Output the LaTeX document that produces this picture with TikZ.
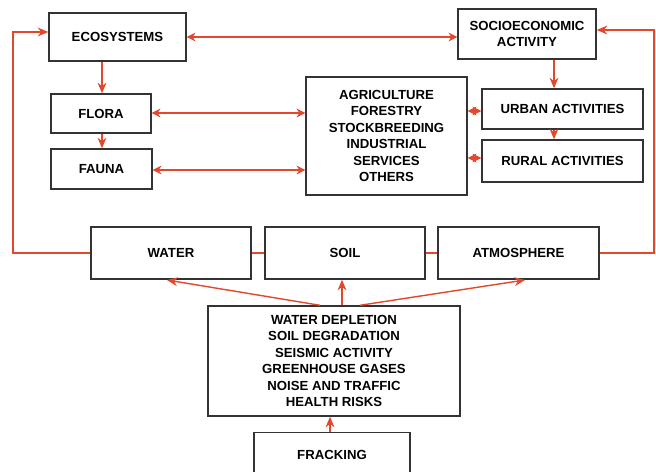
\documentclass[tikz,border=0pt]{standalone}
\usepackage{fontspec}
\setmainfont{Liberation Sans}
\usetikzlibrary{arrows.meta}
\definecolor{linkred}{RGB}{226,72,44}
\tikzset{
  box/.style={draw=black!80, line width=0.8pt, inner sep=0pt, align=center,
    font=\fontsize{7.5}{9.4}\selectfont\bfseries},
  link/.style={draw=linkred, line width=0.8pt},
  arr/.style={link, -{Stealth[length=6pt,width=5pt]}},
  darr/.style={link, {Stealth[length=5pt,width=5pt]}-{Stealth[length=5pt,width=5pt]}}
}
\begin{document}
\begin{tikzpicture}[x=0.02cm,y=-0.02cm]
  \useasboundingbox (0,0) rectangle (656,472);
  % top row
  \node[box, minimum width=137*0.02cm, minimum height=48*0.02cm] (eco) at (117.5,37) {ECOSYSTEMS};
  \node[box, minimum width=138*0.02cm, minimum height=50*0.02cm] (soc) at (527,34) {SOCIOECONOMIC\\ACTIVITY};
  % left column
  \node[box, minimum width=100*0.02cm, minimum height=39*0.02cm] (flora) at (101,113.5) {FLORA};
  \node[box, minimum width=101*0.02cm, minimum height=40*0.02cm] (fauna) at (101.5,169) {FAUNA};
  % sectors
  \node[box, minimum width=161*0.02cm, minimum height=118*0.02cm] (sec) at (386.5,136)
    {AGRICULTURE\\FORESTRY\\STOCKBREEDING\\INDUSTRIAL\\SERVICES\\OTHERS};
  % right column
  \node[box, minimum width=161*0.02cm, minimum height=40*0.02cm] (urban) at (562.5,109) {URBAN ACTIVITIES};
  \node[box, minimum width=161*0.02cm, minimum height=42*0.02cm] (rural) at (562.5,161) {RURAL ACTIVITIES};
  % environment
  \node[box, minimum width=160*0.02cm, minimum height=52*0.02cm] (water) at (171,253) {WATER};
  \node[box, minimum width=160*0.02cm, minimum height=52*0.02cm] (soil) at (345,253) {SOIL};
  \node[box, minimum width=161*0.02cm, minimum height=52*0.02cm] (atm) at (518.5,253) {ATMOSPHERE};
  % impacts
  \node[box, minimum width=252*0.02cm, minimum height=110*0.02cm] (imp) at (334,361)
    {WATER DEPLETION\\SOIL DEGRADATION\\SEISMIC ACTIVITY\\GREENHOUSE GASES\\NOISE AND TRAFFIC\\HEALTH RISKS};
  \node[box, minimum width=156*0.02cm, minimum height=44*0.02cm, anchor=north] (frack) at (332,432) {FRACKING};

  \coordinate (lt) at (13,32);
  \coordinate (lb) at (13,253);
  \coordinate (rt) at (654,30);
  \coordinate (rb) at (654,253);

  \draw[darr] (eco.east |- 0,37) -- (soc.west |- 0,37);
  \draw[arr] (eco.south -| 102,0) -- (flora.north -| 102,0);
  \draw[arr] (flora.south -| 102,0) -- (fauna.north -| 102,0);
  \draw[darr] (flora.east |- 0,113) -- (sec.west |- 0,113);
  \draw[darr] (fauna.east |- 0,170) -- (sec.west |- 0,170);
  \draw[arr] (soc.south -| 554,0) -- (urban.north -| 554,0);
  \draw[arr] (urban.south -| 554,0) -- (rural.north -| 554,0);
  \draw[darr] (sec.east |- 0,111) -- (urban.west |- 0,111);
  \draw[darr] (sec.east |- 0,158) -- (rural.west |- 0,158);

  \draw[link] (water.east) -- (soil.west);
  \draw[link] (soil.east) -- (atm.west);
  \draw[arr] (water.west) -- (lb) -- (lt) -- (eco.west |- lt);
  \draw[arr] (atm.east) -- (rb) -- (rt) -- (soc.east |- rt);

  \draw[arr] (imp.north -| 320,0) -- (167,280);
  \draw[arr] (imp.north -| 342,0) -- (soil.south -| 342,0);
  \draw[arr] (imp.north -| 360,0) -- (525,280);
  \draw[arr] (frack.north -| 330,0) -- (imp.south -| 330,0);
\end{tikzpicture}
\end{document}
